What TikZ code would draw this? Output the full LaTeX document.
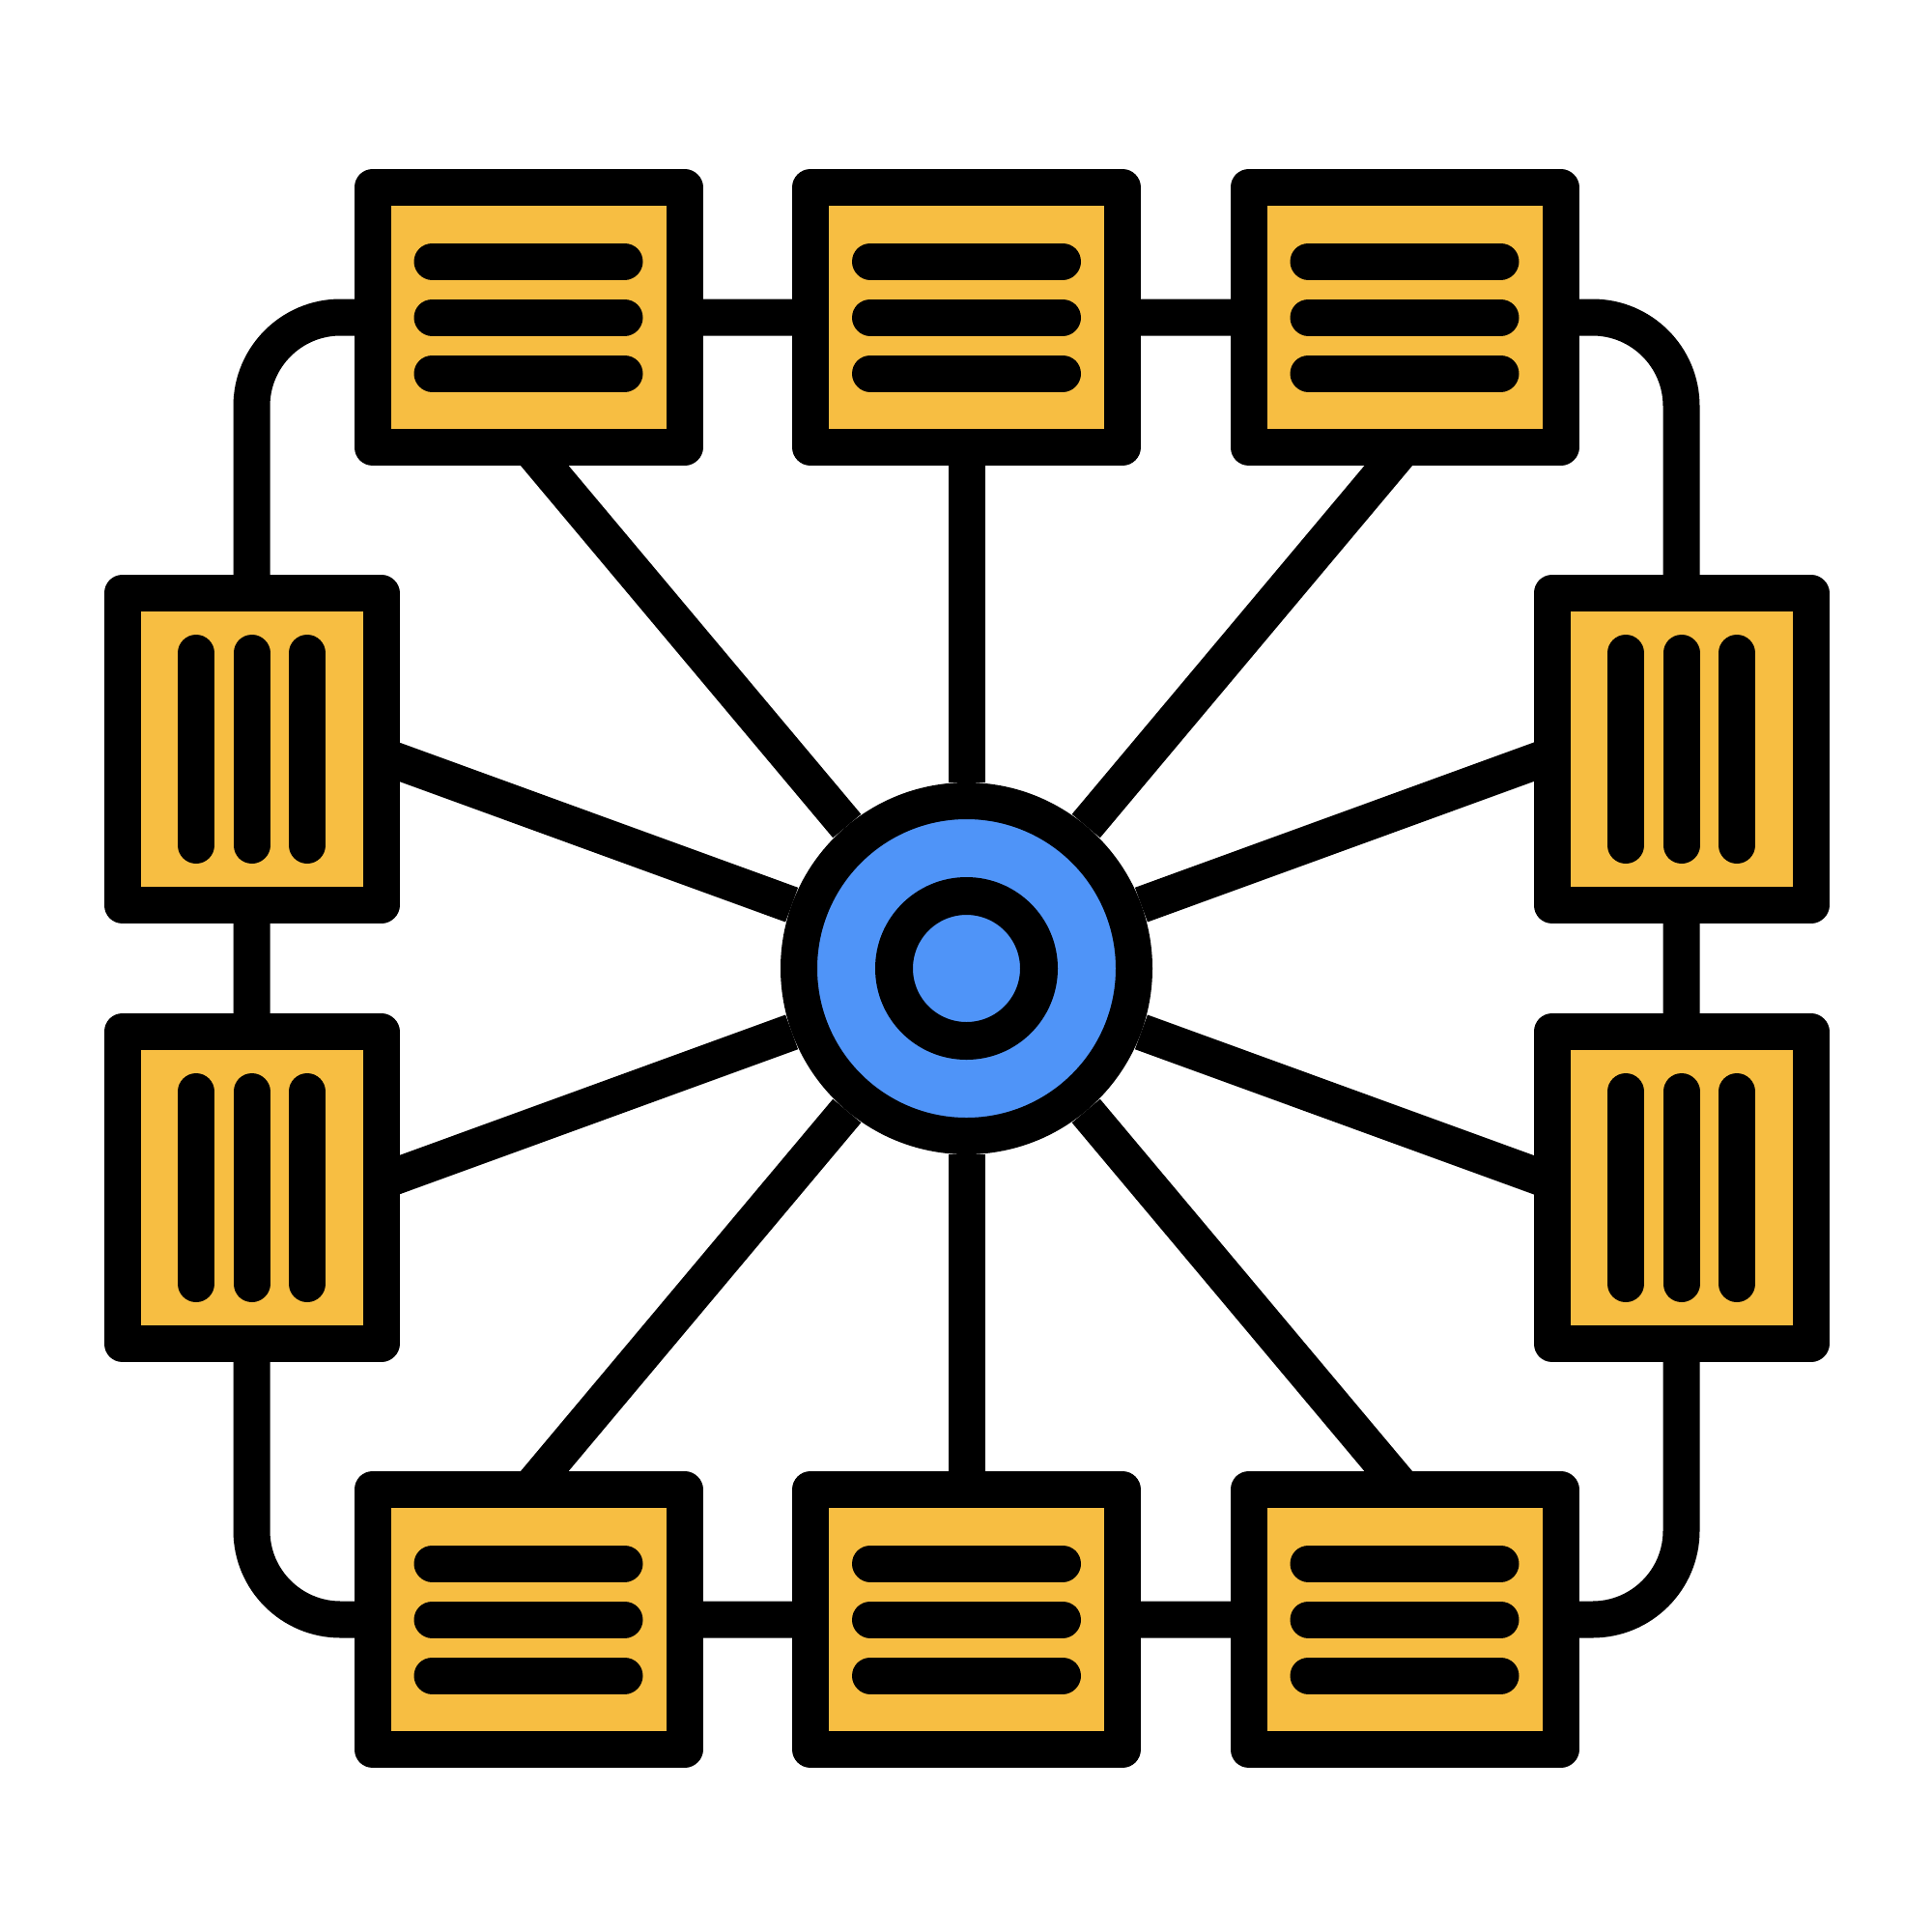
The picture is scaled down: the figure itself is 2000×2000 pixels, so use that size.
\documentclass[tikz,border=0pt]{standalone}
\usetikzlibrary{calc,backgrounds}
\definecolor{boxyellow}{HTML}{F7BE42}
\definecolor{hubblue}{HTML}{4F94F8}
\tikzset{
  hboxs/.style={rectangle, draw=black, fill=boxyellow, line width=38pt, line join=round,
    minimum width=323pt, minimum height=269pt, inner sep=0pt},
  vboxs/.style={rectangle, draw=black, fill=boxyellow, line width=38pt, line join=round,
    minimum width=268pt, minimum height=323pt, inner sep=0pt},
  hubnode/.style={circle, draw=black, fill=hubblue, line width=38pt, minimum size=347pt, inner sep=0pt},
  corenode/.style={circle, draw=black, fill=hubblue, line width=39pt, minimum size=150pt, inner sep=0pt},
  lbar/.style={line width=38pt, line cap=round, draw=black},
  spokeline/.style={line width=38pt, draw=black},
  ringline/.style={line width=38pt, draw=black, rounded corners=92pt}
}
\begin{document}
\begin{tikzpicture}[x=1pt,y=-1pt]
\useasboundingbox (0,0) rectangle (2000,2000);
% hub
\node[hubnode] (hub) at (1000.5,1002.5) {};
\node[corenode] (core) at (hub.center) {};
% boxes
\node[hboxs] (t1) at (547,328.5) {};
\node[hboxs] (t2) at (1000.5,328.5) {};
\node[hboxs] (t3) at (1454,328.5) {};
\node[hboxs] (b1) at (547,1676.5) {};
\node[hboxs] (b2) at (1000.5,1676.5) {};
\node[hboxs] (b3) at (1454,1676.5) {};
\node[vboxs] (l1) at (260.5,775.5) {};
\node[vboxs] (l2) at (260.5,1229.5) {};
\node[vboxs] (r1) at (1740.5,775.5) {};
\node[vboxs] (r2) at (1740.5,1229.5) {};
% bars
\foreach \n in {t1,t2,t3,b1,b2,b3}{
  \foreach \d in {-58,0,58}{
    \draw[lbar] ($(\n.center)+(-99.5,\d)$) -- ($(\n.center)+(99.5,\d)$);
  }
}
\foreach \n in {l1,l2,r1,r2}{
  \foreach \d in {-57.5,0,57.5}{
    \draw[lbar] ($(\n.center)+(\d,-99.5)$) -- ($(\n.center)+(\d,99.5)$);
  }
}
% spoke end points
\coordinate (etl) at ($(hub.center)+(230:783)$);
\coordinate (etr) at ($(hub.center)+(310:783)$);
\coordinate (ebl) at ($(hub.center)+(130:783)$);
\coordinate (ebr) at ($(hub.center)+(50:783)$);
\coordinate (elu) at ($(hub.center)+(200:681)$);
\coordinate (eld) at ($(hub.center)+(160:681)$);
\coordinate (eru) at ($(hub.center)+(340:681)$);
\coordinate (erd) at ($(hub.center)+(20:681)$);
\begin{scope}[on background layer]
  \fill[white] (0,0) rectangle (2000,2000);
  \draw[ringline] (t1.center) -- (t3.center) -| (r1.center) -- (r2.center) |- (b3.center)
    -- (b1.center) -| (l2.center) -- (l1.center) |- (t1.center) -- cycle;
  \draw[spokeline] (hub) -- (t2);
  \draw[spokeline] (hub) -- (b2);
  \draw[spokeline] (hub) -- (etl);
  \draw[spokeline] (hub) -- (etr);
  \draw[spokeline] (hub) -- (ebl);
  \draw[spokeline] (hub) -- (ebr);
  \draw[spokeline] (hub) -- (elu);
  \draw[spokeline] (hub) -- (eld);
  \draw[spokeline] (hub) -- (eru);
  \draw[spokeline] (hub) -- (erd);
\end{scope}
\end{tikzpicture}
\end{document}
